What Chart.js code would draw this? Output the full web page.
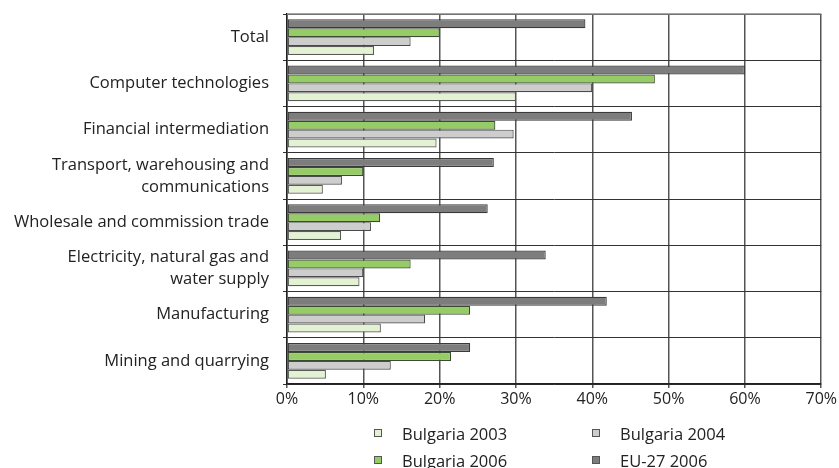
<!DOCTYPE html>
<html><head><meta charset="utf-8">
<script src="https://cdn.jsdelivr.net/npm/chart.js@4"></script>
<style>
html,body{margin:0;padding:0;background:#fff;width:839px;height:468px;overflow:hidden;font-family:"Open Sans",sans-serif;}
#wrap{position:absolute;left:0;top:0;width:839px;height:468px;}
#legend{position:absolute;left:374px;top:423px;width:440px;display:grid;grid-template-columns:218px 200px;row-gap:7px;font-size:16.5px;color:#222;}
.li{display:flex;align-items:center;height:20px;white-space:nowrap;}
.sw{width:6px;height:6px;border:1px solid #555;margin-right:20px;}
</style></head>
<body>
<div id="wrap"><canvas id="c" width="839" height="468"></canvas></div>
<div id="legend"></div>
<script>
const categories = [
  "Total",
  "Computer technologies",
  "Financial intermediation",
  ["Transport, warehousing and", "communications"],
  "Wholesale and commission trade",
  ["Electricity, natural gas and", "water supply"],
  "Manufacturing",
  "Mining and quarrying"
];
const eu27_2006 = [39.1, 60.0, 45.2, 27.1, 26.3, 33.9, 41.9, 24.0];
const bg2006    = [20.0, 48.2, 27.3, 10.0, 12.2, 16.2, 24.0, 21.5];
const bg2004    = [16.2, 40.0, 29.7,  7.2, 11.0, 10.0, 18.1, 13.6];
const bg2003    = [11.4, 30.0, 19.6,  4.7,  7.1,  9.5, 12.3,  5.1];
const seriesNames = ["EU-27 2006", "Bulgaria 2006", "Bulgaria 2004", "Bulgaria 2003"];
const xTicks = [0, 10, 20, 30, 40, 50, 60, 70];

const fills = ["#7d7d7d", "#96cc66", "#cdcdcd", "#e3f2d2"];
const borders = ["#3a3a3a", "#3d4a33", "#4a4a4a", "#5a5a5a"];
const seriesData = [eu27_2006, bg2006, bg2004, bg2003];

const datasets = seriesData.map((d, i) => ({
  label: seriesNames[i],
  data: d,
  backgroundColor: fills[i],
  borderColor: borders[i],
  borderWidth: 1.2,
  borderSkipped: false,
  barPercentage: 1.0,
  categoryPercentage: 0.77
}));

new Chart(document.getElementById('c'), {
  type: 'bar',
  data: { labels: categories, datasets },
  options: {
    indexAxis: 'y',
    responsive: false,
    animation: false,
    devicePixelRatio: 1,
    layout: { padding: { left: 0, right: 16, top: 14, bottom: 54 } },
    plugins: { legend: { display: false }, tooltip: { enabled: false } },
    scales: {
      x: {
        min: 0, max: 70,
        afterBuildTicks: s => { s.ticks = xTicks.map(v => ({ value: v })); },
        afterFit: s => { s.height = 30; },
        border: { color: '#222', width: 1.5 },
        grid: { color: '#555', lineWidth: 1.5, tickLength: 4, drawTicks: true },
        ticks: { color: '#222', font: { family: 'Open Sans', size: 16 }, padding: 2,
                 callback: v => v + '%' }
      },
      y: {
        afterFit: s => { s.width = 287; s.paddingTop = 0; s.paddingBottom = 0; },
        border: { color: '#222', width: 1.5 },
        grid: { color: '#333', lineWidth: 1, tickLength: 4 },
        ticks: { autoSkip: false, color: '#222', font: { family: 'Open Sans', size: 16.5, lineHeight: 1.33 }, padding: 14 }
      }
    }
  },
  plugins: [{
    id: 'topBorder',
    afterDraw(chart) {
      const { ctx, chartArea: a } = chart;
      ctx.save();
      ctx.strokeStyle = '#888';
      ctx.lineWidth = 1.5;
      ctx.beginPath();
      ctx.moveTo(a.left, a.top); ctx.lineTo(a.right, a.top);
      ctx.stroke();
      ctx.restore();
    }
  }]
});

const legendOrder = [3, 2, 1, 0];
const lg = document.getElementById('legend');
legendOrder.forEach(i => {
  const d = document.createElement('div');
  d.className = 'li';
  d.innerHTML = '<span class="sw" style="background:' + fills[i] + '"></span><span>' + seriesNames[i] + '</span>';
  lg.appendChild(d);
});
</script>
</body></html>
